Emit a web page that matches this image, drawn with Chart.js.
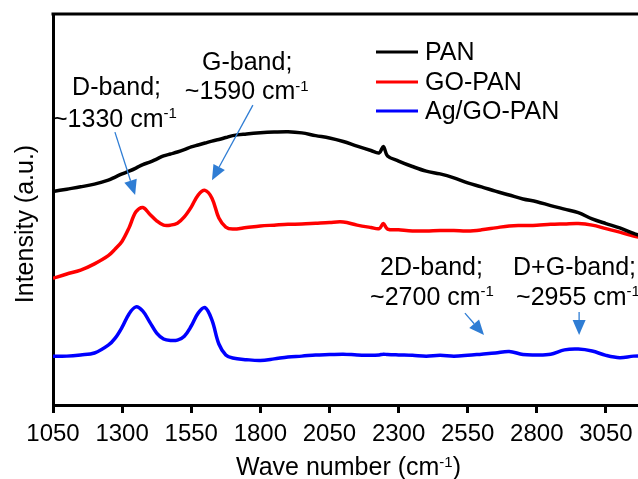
<!DOCTYPE html>
<html>
<head>
<meta charset="utf-8">
<title>Raman spectra</title>
<script src="https://cdn.jsdelivr.net/npm/chart.js@4.4.1/dist/chart.umd.min.js"></script>
<style>
  html, body { margin: 0; padding: 0; background: #fff; }
  #wrap { width: 638px; height: 479px; position: relative; }
</style>
</head>
<body>
<div id="wrap"><canvas id="chart"></canvas></div>
<script>
const wavenumbers = [
  1050, 1100, 1150, 1200, 1250, 1275, 1300, 1325, 1350, 1375, 1400, 1425,
  1450, 1475, 1500, 1525, 1550, 1575, 1600, 1625, 1650, 1675, 1700,
  1750, 1800, 1850, 1900, 1950, 2000, 2050, 2100, 2150, 2200,
  2230, 2245, 2260,
  2300, 2350, 2400, 2450, 2500, 2550, 2600, 2650, 2700, 2750, 2800,
  2850, 2900, 2950, 3000, 3050, 3100, 3150, 3200
];

// intensities, arbitrary units (curves are offset as in the figure)
const panValues = [
  54.6, 55.2, 55.8, 56.5, 57.5, 58.3, 59.1, 59.8, 60.6, 61.5, 62.1, 62.9,
  63.7, 64.2, 64.7, 65.3, 66.0, 66.5, 67.0, 67.5, 67.9, 68.4, 68.9,
  69.3, 69.6, 69.8, 69.9, 69.6, 68.9, 68.3, 67.4, 66.2, 65.1,
  64.5, 66.1, 63.7,
  62.4, 61.0, 59.8, 59.1, 58.1, 56.8, 55.8, 54.7, 53.7, 52.7, 52.0,
  51.0, 50.1, 49.2, 47.6, 46.4, 45.3, 43.9, 42.7
];
const goPanValues = [
  32.4, 33.5, 34.5, 36.1, 38.2, 39.9, 41.9, 45.3, 49.4, 50.5, 48.8, 47.1,
  46.0, 46.0, 46.5, 48.1, 50.6, 53.7, 54.9, 52.9, 47.8, 45.5, 45.0,
  45.4, 45.8, 46.0, 46.2, 46.3, 46.5, 46.7, 46.8, 46.0, 45.4,
  45.1, 46.4, 45.0,
  44.8, 44.5, 44.5, 44.6, 44.6, 44.5, 44.8, 45.3, 45.8, 45.9, 46.0,
  46.2, 46.3, 46.4, 46.0, 45.1, 44.2, 43.2, 42.5
];
const agGoPanValues = [
  12.5, 12.5, 12.8, 13.3, 15.3, 17.1, 19.9, 23.3, 25.1, 24.0, 21.2, 18.4,
  16.9, 16.5, 16.6, 17.6, 20.2, 23.5, 24.9, 21.7, 15.6, 12.8, 12.0,
  11.6, 11.4, 11.8, 12.3, 12.5, 12.8, 12.9, 13.0, 12.8, 12.7,
  12.8, 13.0, 12.9,
  12.8, 12.7, 12.5, 12.7, 12.5, 12.7, 13.0, 13.3, 13.7, 12.9, 12.8,
  13.0, 14.1, 14.3, 13.8, 12.7, 12.1, 12.5, 12.5
];

const seriesNames = ['PAN', 'GO-PAN', 'Ag/GO-PAN'];
const tickValues = [1050, 1300, 1550, 1800, 2050, 2300, 2550, 2800, 3050];
const tickLabels = ['1050', '1300', '1550', '1800', '2050', '2300', '2550', '2800', '3050'];

// band notes: text between carets is a superscript, anchored in data units
const bandNotes = [
  { text: 'D-band;', x: 1119, y: 79.3 },
  { text: '~1330 cm^-1', x: 1050, y: 71.2 },
  { text: 'G-band;', x: 1589, y: 85.7 },
  { text: '~1590 cm^-1', x: 1527, y: 78.2 },
  { text: '2D-band;', x: 2233, y: 33.2 },
  { text: '~2700 cm^-1', x: 2197, y: 25.6 },
  { text: 'D+G-band;', x: 2714, y: 33.2 },
  { text: '~2955 cm^-1', x: 2725, y: 25.6 }
];
const bandArrows = [
  { from: [1274, 69.8], to: [1347, 53.7] },
  { from: [1773, 76.7], to: [1625, 57.5] },
  { from: [2540, 23.5], to: [2609, 17.9] },
  { from: [2953, 23.8], to: [2953, 17.9] }
];

const FONT = '"Liberation Sans", Arial, sans-serif';
const ARROW_COLOR = '#2f7dd4';

function drawRich(ctx, text, x, y, size, align) {
  const parts = text.split('^').map((t, i) => ({ t, sup: i % 2 === 1 }));
  let total = 0;
  parts.forEach(p => {
    ctx.font = `${p.sup ? Math.round(size * 0.6) : size}px ${FONT}`;
    p.w = ctx.measureText(p.t).width;
    total += p.w;
  });
  let cx = align === 'center' ? x - total / 2 : x;
  ctx.textAlign = 'left';
  ctx.textBaseline = 'alphabetic';
  parts.forEach(p => {
    ctx.font = `${p.sup ? Math.round(size * 0.6) : size}px ${FONT}`;
    ctx.fillText(p.t, cx, p.sup ? y - size * 0.34 : y);
    cx += p.w;
  });
}

function drawArrow(ctx, x1, y1, x2, y2) {
  const ang = Math.atan2(y2 - y1, x2 - x1);
  const head = 15, half = 6.5;
  const bx = x2 - head * Math.cos(ang), by = y2 - head * Math.sin(ang);
  ctx.strokeStyle = ARROW_COLOR;
  ctx.fillStyle = ARROW_COLOR;
  ctx.lineWidth = 1.3;
  ctx.beginPath();
  ctx.moveTo(x1, y1);
  ctx.lineTo(bx, by);
  ctx.stroke();
  ctx.beginPath();
  ctx.moveTo(x2, y2);
  ctx.lineTo(bx + half * Math.sin(ang), by - half * Math.cos(ang));
  ctx.lineTo(bx - half * Math.sin(ang), by + half * Math.cos(ang));
  ctx.closePath();
  ctx.fill();
}

const decorations = {
  id: 'decorations',
  afterDraw(chart) {
    const { ctx, chartArea, scales: { x, y } } = chart;
    ctx.save();

    // top frame line
    ctx.strokeStyle = '#000';
    ctx.lineWidth = 3;
    ctx.beginPath();
    ctx.moveTo(chartArea.left - 1.5, chartArea.top);
    ctx.lineTo(chartArea.right, chartArea.top);
    ctx.stroke();

    // axis titles
    ctx.fillStyle = '#000';
    drawRich(ctx, 'Wave number (cm^-1^)', (chartArea.left + chartArea.right) / 2 + 3, 475, 25, 'center');
    ctx.save();
    ctx.translate(33, 224);
    ctx.rotate(-Math.PI / 2);
    drawRich(ctx, 'Intensity (a.u.)', 0, 0, 25, 'center');
    ctx.restore();

    // legend
    chart.data.datasets.forEach((ds, i) => {
      const base = [60, 90, 119][i];
      ctx.strokeStyle = ds.borderColor;
      ctx.lineWidth = 3;
      ctx.beginPath();
      ctx.moveTo(376, base - 8);
      ctx.lineTo(418, base - 8);
      ctx.stroke();
      ctx.fillStyle = '#000';
      drawRich(ctx, ds.label, 425, base, 25, 'left');
    });

    // band notes and arrows
    ctx.fillStyle = '#000';
    bandNotes.forEach(n => {
      drawRich(ctx, n.text, x.getPixelForValue(n.x), y.getPixelForValue(n.y), 25, 'left');
    });
    bandArrows.forEach(a => {
      drawArrow(ctx,
        x.getPixelForValue(a.from[0]), y.getPixelForValue(a.from[1]),
        x.getPixelForValue(a.to[0]), y.getPixelForValue(a.to[1]));
    });
    ctx.restore();
  }
};

const colors = ['#000000', '#ff0000', '#0000ff'];
const seriesValues = [panValues, goPanValues, agGoPanValues];

const datasets = seriesNames.map((name, i) => ({
  label: name,
  data: wavenumbers.map((wn, j) => ({ x: wn, y: seriesValues[i][j] })),
  borderColor: colors[i],
  borderWidth: 3.5,
  pointRadius: 0,
  tension: 0.35,
  fill: false
}));

new Chart(document.getElementById('chart'), {
  type: 'line',
  data: { datasets },
  options: {
    responsive: true,
    maintainAspectRatio: false,
    animation: false,
    layout: { padding: { top: 14, left: 0, right: 0, bottom: 0 } },
    plugins: { legend: { display: false }, tooltip: { enabled: false } },
    scales: {
      x: {
        type: 'linear',
        min: 1050,
        max: 3166,
        afterBuildTicks: s => { s.ticks = tickValues.map(v => ({ value: v })); },
        afterFit: s => { s.height = 74; s.paddingLeft = 0; s.paddingRight = 0; },
        ticks: {
          padding: 7,
          maxRotation: 0,
          autoSkip: false,
          color: '#000',
          font: { family: FONT, size: 24 },
          callback: (v, i) => tickLabels[i]
        },
        grid: { drawOnChartArea: false, drawTicks: true, tickLength: 8, tickWidth: 3, tickColor: '#000' },
        border: { display: true, color: '#000', width: 3 }
      },
      y: {
        min: 0,
        max: 100,
        afterFit: s => { s.width = 53; },
        ticks: { display: false },
        grid: { drawOnChartArea: false, drawTicks: false },
        border: { display: true, color: '#000', width: 3 }
      }
    }
  },
  plugins: [decorations]
});
</script>
</body>
</html>
